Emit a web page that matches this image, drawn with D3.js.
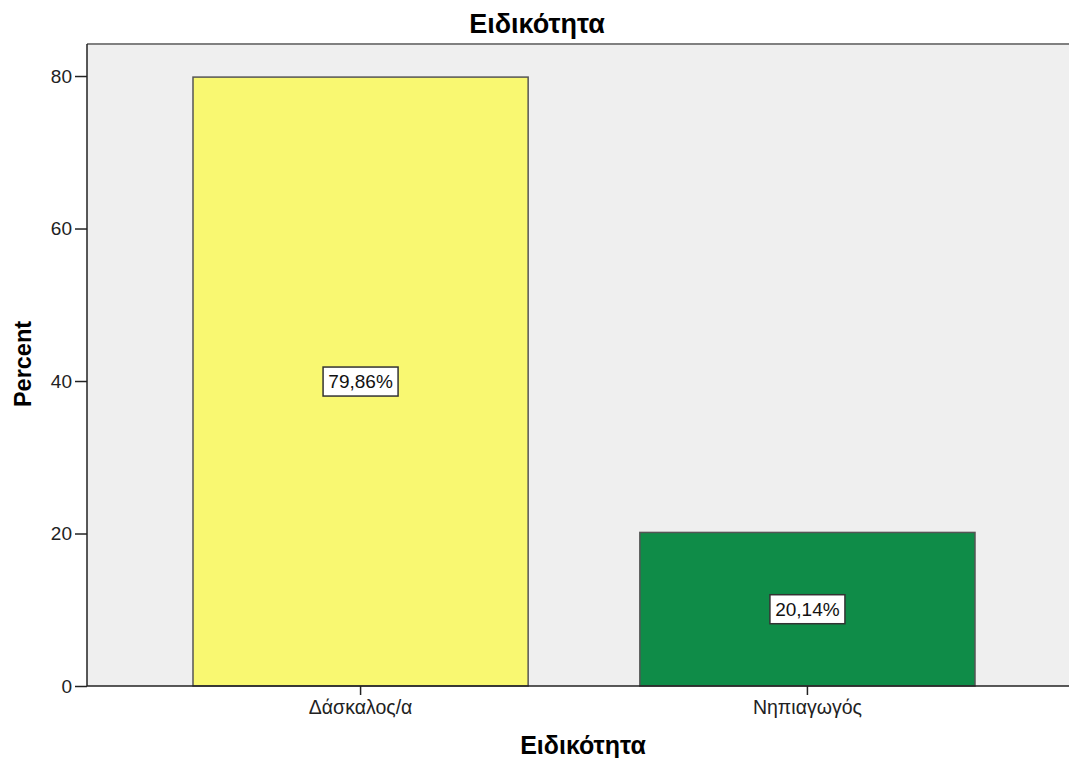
<!DOCTYPE html>
<html><head><meta charset="utf-8">
<script src="https://cdn.jsdelivr.net/npm/d3@7"></script>
<style>body{margin:0;background:#fff}svg{display:block}text{font-family:"Liberation Sans",Arial,sans-serif}</style>
</head><body>
<svg id="c" width="1069" height="758"></svg>
<script>
const categories = ["Δάσκαλος/α", "Νηπιαγωγός"];
const percents = [79.86, 20.14];
const labels = ["79,86%", "20,14%"];
const yTicks = [0, 20, 40, 60, 80];
const colors = ["#f9f871", "#0f8c48"];
const title = "Ειδικότητα";
const xTitle = "Ειδικότητα";
const yTitle = "Percent";

const svg = d3.select("#c");
const m = {left: 87, top: 44, right: 1069, bottom: 686};

const x = d3.scaleBand().domain(categories).range([193, 975]).paddingInner(0.25).paddingOuter(0);
const y = d3.scaleLinear().domain([0, 84.2]).range([m.bottom, m.top]);

svg.append("rect").attr("x", m.left).attr("y", m.top).attr("width", m.right - m.left + 5).attr("height", m.bottom - m.top).attr("fill", "#efefef");
svg.append("line").attr("x1", m.left).attr("x2", 1069).attr("y1", m.top).attr("y2", m.top).attr("stroke", "#808080").attr("stroke-width", 2);

svg.selectAll("rect.bar").data(categories).join("rect").attr("class", "bar")
  .attr("x", d => x(d)).attr("width", x.bandwidth())
  .attr("y", (d, i) => y(percents[i])).attr("height", (d, i) => y(0) - y(percents[i]))
  .attr("fill", (d, i) => colors[i]).attr("stroke", "#555").attr("stroke-width", 1.5);

// y axis
const ya = svg.append("g").attr("transform", `translate(${m.left},0)`)
  .call(d3.axisLeft(y).tickValues(yTicks).tickSize(12).tickPadding(3).tickFormat(d3.format("d")));
ya.select(".domain").attr("stroke", "#222").attr("stroke-width", 1.5).attr("d", `M0,${m.top}V${m.bottom}`);
ya.selectAll(".tick line").attr("stroke", "#222").attr("stroke-width", 1.5);
ya.selectAll(".tick text").attr("font-size", 19).attr("fill", "#222").style("font-family", '"Liberation Sans",Arial,sans-serif');

// x axis
const xa = svg.append("g").attr("transform", `translate(0,${m.bottom})`)
  .call(d3.axisBottom(x).tickSize(9).tickPadding(5));
xa.select(".domain").attr("stroke", "#222").attr("stroke-width", 1.5).attr("d", `M${m.left},0H1069`);
xa.selectAll(".tick line").attr("stroke", "#222").attr("stroke-width", 1.5);
xa.selectAll(".tick text").attr("font-size", 19.5).attr("fill", "#222").style("font-family", '"Liberation Sans",Arial,sans-serif');

// value labels
const lg = svg.selectAll("g.lab").data(categories).join("g").attr("class", "lab")
  .attr("transform", (d, i) => `translate(${x(d) + x.bandwidth() / 2},${y(percents[i] / 2)})`);
lg.append("rect").attr("x", -37.5).attr("y", -14.5).attr("width", 75).attr("height", 29)
  .attr("fill", "#fff").attr("stroke", "#333").attr("stroke-width", 1.5);
lg.append("text").attr("text-anchor", "middle").attr("dy", "0.36em").attr("font-size", 19).attr("fill", "#111")
  .text((d, i) => labels[i]);

svg.append("text").attr("x", 537).attr("y", 33).attr("text-anchor", "middle").attr("font-size", 27).attr("font-weight", "bold").text(title);
svg.append("text").attr("x", 583).attr("y", 754).attr("text-anchor", "middle").attr("font-size", 25).attr("font-weight", "bold").text(xTitle);
svg.append("text").attr("transform", "translate(31,364) rotate(-90)").attr("text-anchor", "middle").attr("font-size", 23.5).attr("font-weight", "bold").text(yTitle);
</script>
</body></html>
